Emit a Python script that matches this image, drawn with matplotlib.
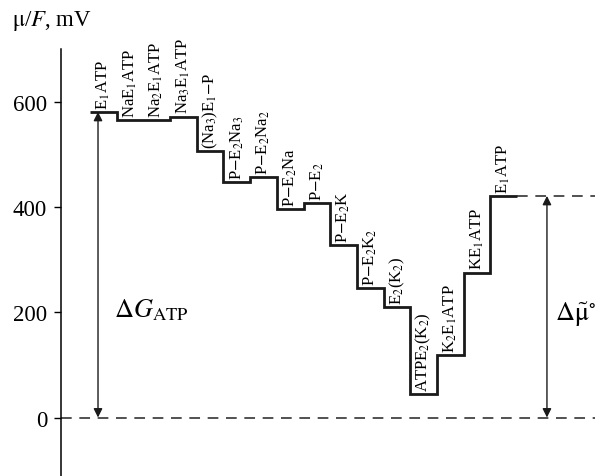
import numpy as np
import matplotlib
matplotlib.use('Agg')
from matplotlib import pyplot as plt

plt.rcParams['font.family'] = ['Liberation Serif', 'DejaVu Serif']
plt.rcParams['mathtext.fontset'] = 'stix'

# states of the pump cycle and their potential levels (mV)
states = [r'E$_1$ATP', r'NaE$_1$ATP', r'Na$_2$E$_1$ATP', r'Na$_3$E$_1$ATP',
          r'(Na$_3$)E$_1$$-$P', r'P$-$E$_2$Na$_3$', r'P$-$E$_2$Na$_2$', r'P$-$E$_2$Na',
          r'P$-$E$_2$', r'P$-$E$_2$K', r'P$-$E$_2$K$_2$', r'E$_2$(K$_2$)',
          r'ATPE$_2$(K$_2$)', r'K$_2$E$_1$ATP', r'KE$_1$ATP', r'E$_1$ATP']
levels = [582, 567, 567, 573, 508, 449, 458, 397, 409, 328, 246, 210, 45, 119, 276, 422]
dG_atp = 582
dmu = 422
yticks = [0, 200, 400, 600]

fig = plt.figure(figsize=(5.95, 4.77), dpi=100)
ax = fig.add_axes([0, 0, 1, 1])
xr = 18.92
ax.set_xlim(-3.372, xr)
ax.set_ylim(-111.4, 797)
x_axis = -1.087

edges = np.arange(len(levels) + 1)
ax.stairs(levels, edges, baseline=None, color='#1a1a1a', lw=2.0)

for i, (s, v) in enumerate(zip(states, levels)):
    ax.text(i + 0.5, v + 6, s, rotation=90, ha='center', va='bottom', fontsize=12)

# zero line and final level line
ax.plot([x_axis, xr], [0, 0], color='#222222', lw=1.1, dashes=(7, 5))
ax.plot([edges[-1], xr], [dmu, dmu], color='#222222', lw=1.1, dashes=(7, 5))

# arrows
ax.annotate('', xy=(0.3, 0), xytext=(0.3, dG_atp),
            arrowprops=dict(arrowstyle='<|-|>', color='#1a1a1a', lw=1, mutation_scale=13,
                            shrinkA=0, shrinkB=0))
ax.annotate('', xy=(17.12, 0), xytext=(17.12, dmu),
            arrowprops=dict(arrowstyle='<|-|>', color='#1a1a1a', lw=1, mutation_scale=13,
                            shrinkA=0, shrinkB=0))
ax.text(0.9, 207, r'$\Delta G_{\mathrm{ATP}}$', fontsize=19, va='center', ha='left')
ax.text(17.42, 197, r'$\Delta\tilde{\mathrm{\mu}}^{\circ}$', fontsize=19, va='center', ha='left')

for sp in ['top', 'right', 'bottom']:
    ax.spines[sp].set_visible(False)
ax.spines['left'].set_position(('data', x_axis))
ax.spines['left'].set_bounds(-115, 702)
ax.spines['left'].set_linewidth(1.1)
ax.set_xticks([])
ax.set_yticks(yticks)
ax.tick_params(axis='y', direction='out', length=5, width=1, pad=5, labelsize=16.5)
fig.text(0.02, 0.955, r'$\mathrm{\mu}$/$F$, mV', fontsize=16.5, va='center', ha='left')

fig.savefig('out.png', dpi=100)
